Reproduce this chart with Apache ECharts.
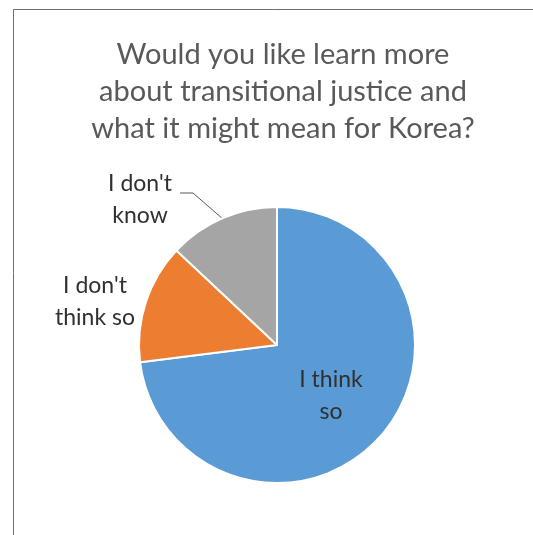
<!DOCTYPE html>
<html>
<head>
<meta charset="utf-8">
<script src="https://cdn.jsdelivr.net/npm/echarts@6/dist/echarts.min.js"></script>
<style>
  html, body { margin: 0; padding: 0; background: #fff; }
  #chart { width: 533px; height: 535px; }
</style>
</head>
<body>
<div id="chart"></div>
<script>
var titleText = "Would you like learn more\nabout transitional justice and\nwhat it might mean for Korea?";
var answers = ["I think so", "I don't think so", "I don't know"];
var answerLabels = ["I think\nso", "I don't\nthink so", "I don't\nknow"];
var shares = [73, 14, 13];
var colors = ["#5B9BD5", "#ED7D31", "#A5A5A5"];

function init_echart_pie(container) {
  var chartDom = document.getElementById(container);
  var myChart = echarts.init(chartDom);

  var data = answers.map(function (name, i) {
    var item = {
      name: name,
      value: shares[i],
      itemStyle: { color: colors[i] },
      label: { formatter: answerLabels[i] },
    };
    if (i === 0) {
      item.label.position = "inside";
      item.label.offset = [0, 3];
    } else {
      item.label.position = "outside";
    }
    if (i === 1) {
      item.labelLine = { show: false };
    }
    return item;
  });

  var option = {
    animation: false,
    title: {
      text: titleText,
      left: 278,
      top: 31,
      textAlign: "center",
      textStyle: {
        color: "#595959",
        fontFamily: "Lato",
        fontSize: 29,
        fontWeight: "normal",
        lineHeight: 37,
      },
    },
    graphic: [
      {
        type: "rect",
        shape: { x: 13.5, y: 9.5, width: 600, height: 600 },
        style: { fill: null, stroke: "#6f6f6f", lineWidth: 1 },
      },
    ],
    series: [
      {
        type: "pie",
        center: [277, 345],
        radius: 138,
        startAngle: 90,
        clockwise: true,
        itemStyle: { borderColor: "#fff", borderWidth: 2 },
        label: {
          color: "#303030",
          fontFamily: "Lato",
          fontSize: 23,
          lineHeight: 32,
          align: "center",
        },
        labelLine: {
          length: 30,
          length2: 10,
          lineStyle: { color: "#595959", width: 1 },
        },
        // 外侧标签的位置
        labelLayout: function (params) {
          if (params.dataIndex === 1) {
            return { x: 95, y: 302, align: "center", verticalAlign: "middle" };
          }
          if (params.dataIndex === 2) {
            var lx = 140, ly = 200;
            var pts = params.labelLinePoints;
            return {
              x: lx,
              y: ly,
              align: "center",
              verticalAlign: "middle",
              labelLinePoints: [pts[0], [lx + 53, ly - 7], [lx + 40, ly - 7]],
            };
          }
          return {};
        },
        data: data,
      },
    ],
  };

  myChart.setOption(option);
}

init_echart_pie("chart");
</script>
</body>
</html>
